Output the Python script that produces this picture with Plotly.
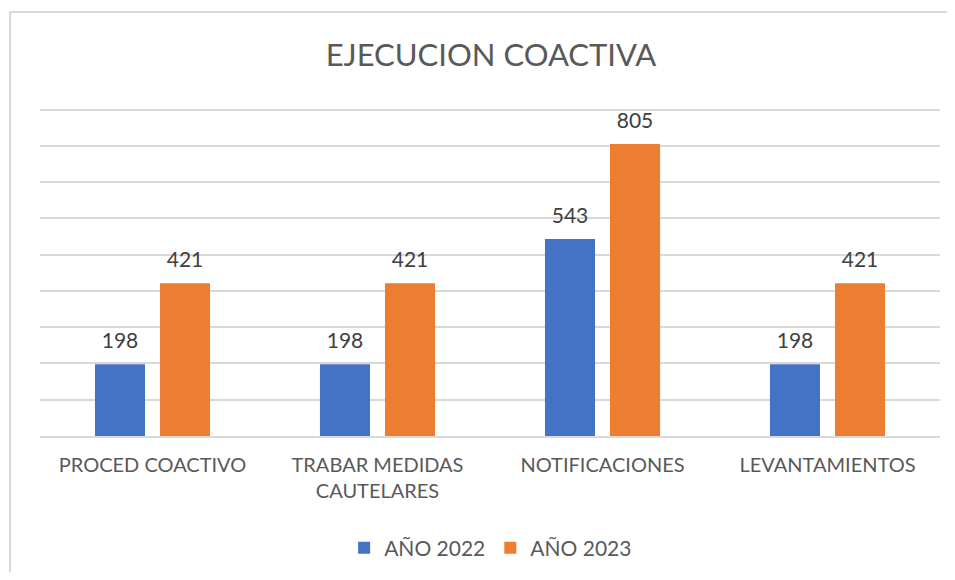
import plotly.graph_objects as go

categories = ["PROCED COACTIVO", "TRABAR MEDIDAS<br>CAUTELARES", "NOTIFICACIONES", "LEVANTAMIENTOS"]
series_names = ["AÑO 2022", "AÑO 2023"]
values_2022 = [198, 198, 543, 198]
values_2023 = [421, 421, 805, 421]
colors = ["#4472C4", "#ED7D31"]

FONT = "Lato, Calibri, sans-serif"
TXT = "#595959"
GAP = 0.422

fig = go.Figure()
for i, (name, vals, col) in enumerate(zip(series_names, [values_2022, values_2023], colors)):
    fig.add_trace(go.Bar(
        x=categories, y=vals, name=name, marker_color=col,
        marker_line_width=0, offsetgroup=str(i), alignmentgroup="g",
    ))
for i, vals in enumerate([values_2022, values_2023]):
    fig.add_trace(go.Scatter(
        x=categories, y=vals, mode="markers+text", showlegend=False,
        offsetgroup=str(i), alignmentgroup="g",
        marker=dict(size=16, opacity=0),
        text=[str(v) for v in vals], textposition="top center",
        textfont=dict(size=21, color="#404040", family=FONT),
        cliponaxis=False, hoverinfo="skip",
    ))

# page body has an 8px margin, so the figure is drawn 8px in from the window edge
W, H = 947, 564
L, R, T, B = 32, 15, 98, 136
pw, ph = W - L - R, H - T - B
BASE = H - B  # pixel row of the x axis inside the figure

border = dict(color="#d9d9d9", width=2)
fig.update_layout(
    width=W, height=H,
    margin=dict(l=L, r=R, t=T, b=B, autoexpand=False),
    paper_bgcolor="white", plot_bgcolor="white",
    title=dict(text="EJECUCION COACTIVA", x=483 / W, xanchor="center", y=1 - 47 / H, yanchor="middle",
               font=dict(size=31, color=TXT, family=FONT)),
    barmode="group", bargap=GAP, bargroupgap=0.23,
    scattermode="group", scattergap=GAP,
    showlegend=True,
    legend=dict(orientation="h", x=0.5007, xanchor="center", y=-(540 - BASE) / ph, yanchor="middle",
                font=dict(size=21, color=TXT, family=FONT), traceorder="normal"),
    font=dict(family=FONT, color=TXT),
    xaxis=dict(showline=True, linecolor="#d9d9d9", linewidth=2, ticks="",
               ticklabelstandoff=10,
               tickfont=dict(size=20, color=TXT, family=FONT)),
    yaxis=dict(range=[0, 910], tickvals=[100, 200, 300, 400, 500, 600, 700, 800, 900],
               showgrid=True, gridcolor="#d9d9d9", gridwidth=1.5,
               showticklabels=False, zeroline=False, showline=False),
    shapes=[
        dict(type="line", xref="paper", yref="paper", x0=(2 - L) / pw, x1=(W - L) / pw,
             y0=(BASE - 4) / ph, y1=(BASE - 4) / ph, line=border, layer="below"),
        dict(type="line", xref="paper", yref="paper", x0=(2 - L) / pw, x1=(2 - L) / pw,
             y0=-B / ph, y1=(BASE - 4) / ph, line=border, layer="below"),
    ],
)

fig.write_html("out.html")
